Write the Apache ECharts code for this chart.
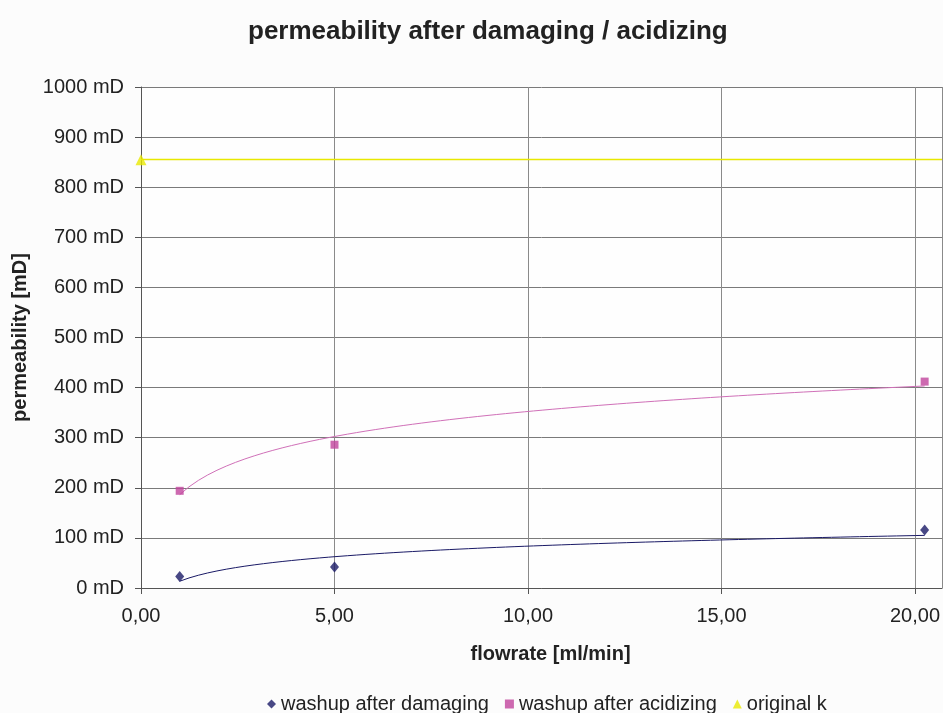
<!DOCTYPE html>
<html>
<head>
<meta charset="utf-8">
<script src="https://cdn.jsdelivr.net/npm/echarts@6/dist/echarts.min.js"></script>
<style>
html,body{margin:0;padding:0;background:#fcfcfc;}
#chart{width:943px;height:713px;}
</style>
</head>
<body>
<div id="chart"></div>
<script>
// Data
const flowDamaging = [1.0, 5.0, 20.25];
const kDamaging = [23, 42, 116];
const flowAcidizing = [1.0, 5.0, 20.25];
const kAcidizing = [194, 286, 412];
const flowOriginal = [0];
const kOriginal = [855];
const xTicks = [0, 5, 10, 15, 20];
const yTicks = [0, 100, 200, 300, 400, 500, 600, 700, 800, 900, 1000];

// logarithmic least-squares trendline (as Excel does)
function logFit(xs, ys) {
  const lx = xs.map(Math.log);
  const n = xs.length;
  const mx = lx.reduce((a, b) => a + b, 0) / n;
  const my = ys.reduce((a, b) => a + b, 0) / n;
  let sxy = 0, sxx = 0;
  for (let i = 0; i < n; i++) { sxy += (lx[i] - mx) * (ys[i] - my); sxx += (lx[i] - mx) * (lx[i] - mx); }
  const a = sxy / sxx, b = my - a * mx;
  const x0 = Math.min(...xs), x1 = Math.max(...xs);
  const pts = [];
  const N = 80;
  for (let i = 0; i <= N; i++) {
    const x = x0 + (x1 - x0) * i / N;
    pts.push([x, a * Math.log(x) + b]);
  }
  return pts;
}

const zip = (xs, ys) => xs.map((x, i) => [x, ys[i]]);
const FONT = 'Liberation Sans, Arial, sans-serif';
const navy = '#1a1a66';
const pink = '#c0449c';
const yellow = '#e8e800';

const chart = echarts.init(document.getElementById('chart'), null, {renderer: 'canvas'});
chart.setOption({
  backgroundColor: '#fcfcfc',
  animation: false,
  title: {
    text: 'permeability after damaging / acidizing',
    left: 243, top: 14,
    textStyle: {fontFamily: FONT, fontWeight: 'bold', fontSize: 26, color: '#222'}
  },
  grid: {left: 141, right: 0, top: 87, bottom: 125, containLabel: false, show: true, backgroundColor: '#fefefe', borderWidth: 0},
  xAxis: {
    type: 'value', min: 0, max: 20.7, interval: 5,
    name: 'flowrate [ml/min]', nameLocation: 'middle', nameGap: 56,
    nameTextStyle: {fontFamily: FONT, fontWeight: 'bold', fontSize: 20, color: '#222', padding: [0, 0, 0, 18]},
    axisLine: {show: true, onZero: false, lineStyle: {color: '#555', width: 1}},
    axisTick: {show: true, length: 6, lineStyle: {color: '#555'}},
    axisLabel: {fontFamily: FONT, fontSize: 20, color: '#222', margin: 18,
      formatter: v => xTicks.includes(v) ? v.toFixed(2).replace('.', ',') : '', showMaxLabel: false},
    splitLine: {show: true, lineStyle: {color: '#8a8a8a', width: 1}}
  },
  yAxis: {
    type: 'value', min: 0, max: 1000, interval: 100,
    name: 'permeability [mD]', nameLocation: 'middle', nameGap: 111, nameRotate: 90,
    nameTextStyle: {fontFamily: FONT, fontWeight: 'bold', fontSize: 20, color: '#222'},
    axisLine: {show: true, lineStyle: {color: '#555', width: 1}},
    axisTick: {show: true, length: 6, lineStyle: {color: '#555'}},
    axisLabel: {fontFamily: FONT, fontSize: 20, color: '#222', margin: 17,
      formatter: v => yTicks.includes(v) ? v + ' mD' : ''},
    splitLine: {show: true, lineStyle: {color: '#7a7a7a', width: 1}}
  },
  legend: {
    bottom: -6, left: 262,
    data: ['washup after damaging', 'washup after acidizing', 'original k'],
    itemWidth: 9, itemHeight: 9, itemGap: 16,
    textStyle: {fontFamily: FONT, fontSize: 20, color: '#222'}
  },
  series: [
    {name: 'washup after damaging', type: 'scatter', symbol: 'diamond', symbolSize: [9, 11],
     itemStyle: {color: navy}, data: zip(flowDamaging, kDamaging), z: 5},
    {name: 'washup after acidizing', type: 'scatter', symbol: 'rect', symbolSize: 8,
     itemStyle: {color: pink}, data: zip(flowAcidizing, kAcidizing), z: 5},
    {name: 'original k', type: 'scatter', symbol: 'triangle', symbolSize: 11,
     itemStyle: {color: yellow}, data: zip(flowOriginal, kOriginal), z: 5,
     markLine: {silent: true, symbol: ['none', 'none'], label: {show: false},
       lineStyle: {color: yellow, type: 'solid', width: 1.3, opacity: 1},
       emphasis: {disabled: true},
       data: [{yAxis: kOriginal[0]}]}},
    {name: 'trend damaging', type: 'line', showSymbol: false, smooth: false,
     lineStyle: {color: navy, width: 1}, data: logFit(flowDamaging, kDamaging), z: 3},
    {name: 'trend acidizing', type: 'line', showSymbol: false, smooth: false,
     lineStyle: {color: '#d070b8', width: 1}, data: logFit(flowAcidizing, kAcidizing), z: 3}
  ]
});
</script>
</body>
</html>
